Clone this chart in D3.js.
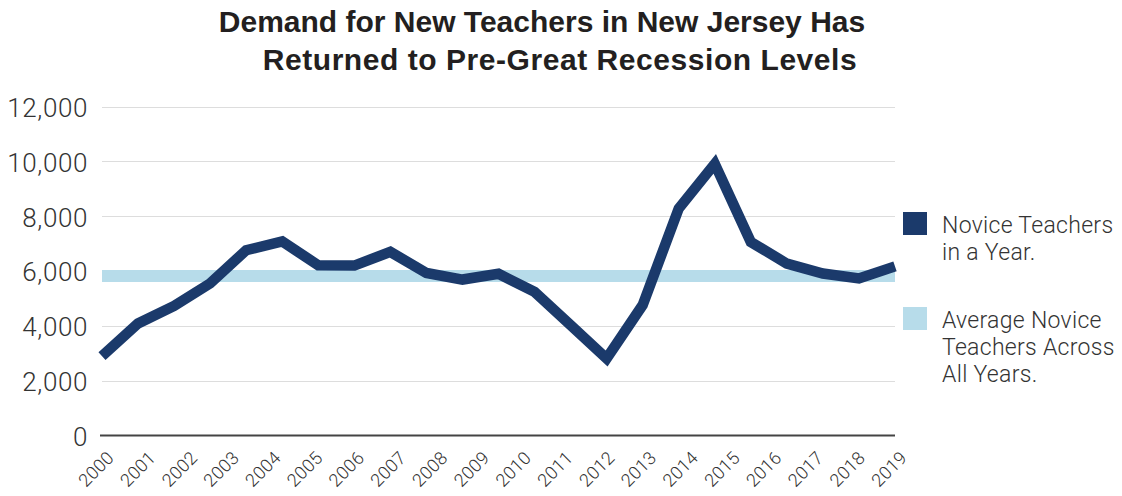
<!DOCTYPE html>
<html>
<head>
<meta charset="utf-8">
<script src="https://cdn.jsdelivr.net/npm/d3@7"></script>
<style>
  html, body { margin: 0; padding: 0; background: #fff; }
  svg { display: block; }
</style>
</head>
<body>
<svg id="chart" width="1122" height="496"></svg>
<script>
// ---- data ----
const titleLines = ["Demand for New Teachers in New Jersey Has", "Returned to Pre-Great Recession Levels"];
const yearLabels = ["2000","2001","2002","2003","2004","2005","2006","2007","2008","2009",
                    "2010","2011","2012","2013","2014","2015","2016","2017","2018","2019"];
const noviceTeachers = [2900, 4090, 4730, 5550, 6760, 7080, 6210, 6200, 6700, 5930, 5690, 5900,
                        5240, 4030, 2810, 4760, 8280, 9910, 7060, 6270, 5910, 5730, 6170];
const averageNovice = 5820;
const yTicks = [0, 2000, 4000, 6000, 8000, 10000, 12000];
const legendItems = [
  { lines: ["Novice Teachers", "in a Year."], key: "series" },
  { lines: ["Average Novice", "Teachers Across", "All Years."], key: "average" }
];

// ---- layout ----
const colors = { series: "#1b3a6b", average: "#b7dcea" };
const plot = { left: 102, right: 895, top: 106.5, bottom: 435.6 };
const svg = d3.select("#chart");
const lightFont = "Roboto, 'Helvetica Neue', Arial, sans-serif";

const y = d3.scaleLinear().domain([0, 12000]).range([plot.bottom, plot.top]);
const xIdx = d3.scaleLinear().domain([0, noviceTeachers.length - 1]).range([plot.left, plot.right]);
const xLab = d3.scalePoint().domain(yearLabels).range([plot.left, plot.right]);

// title
svg.append("g").selectAll("text").data(titleLines).join("text")
  .attr("x", (d, i) => i === 0 ? 542 : 560)
  .attr("y", (d, i) => 32 + i * 38)
  .attr("text-anchor", "middle")
  .attr("font-family", "'Liberation Sans', Arial, Helvetica, sans-serif")
  .attr("font-weight", "bold")
  .attr("font-size", 30)
  .attr("letter-spacing", (d, i) => i === 0 ? 0 : 0.55)
  .attr("fill", "#231f20")
  .text(d => d);

// gridlines (non-zero)
svg.append("g").selectAll("line").data(yTicks.filter(t => t > 0)).join("line")
  .attr("x1", plot.left).attr("x2", plot.right)
  .attr("y1", d => Math.round(y(d)) + 0.5).attr("y2", d => Math.round(y(d)) + 0.5)
  .attr("stroke", "#dddddd").attr("stroke-width", 1.2);

// y axis labels
const yAxis = d3.axisLeft(y).tickValues(yTicks).tickFormat(d3.format(",")).tickSize(0).tickPadding(0);
const yG = svg.append("g").attr("transform", "translate(88,0)").call(yAxis);
yG.select(".domain").remove();
yG.selectAll("text")
  .attr("font-family", lightFont).attr("font-weight", 300)
  .attr("font-size", 26).attr("letter-spacing", 0.6)
  .attr("fill", "#333").attr("dy", "0.38em");

// zero axis line
svg.append("line")
  .attr("x1", 100).attr("x2", plot.right)
  .attr("y1", y(0)).attr("y2", y(0))
  .attr("stroke", "#444").attr("stroke-width", 2);

// x labels
const xAxis = d3.axisBottom(xLab).tickSize(0).tickPadding(0);
const xG = svg.append("g").call(xAxis);
xG.select(".domain").remove();
xG.selectAll(".tick").attr("transform", d => `translate(${xLab(d) + 13},459)`);
xG.selectAll("text")
  .attr("x", 0).attr("y", 0).attr("dy", 0)
  .attr("transform", "rotate(-45)")
  .attr("text-anchor", "end")
  .attr("font-family", lightFont).attr("font-weight", 300)
  .attr("font-size", 18).attr("letter-spacing", 0.3)
  .attr("fill", "#333");

// average band
svg.append("line")
  .attr("x1", plot.left).attr("x2", plot.right)
  .attr("y1", y(averageNovice)).attr("y2", y(averageNovice))
  .attr("stroke", colors.average).attr("stroke-width", 12);

// novice line
const line = d3.line().x((d, i) => xIdx(i)).y(d => y(d));
svg.append("path").datum(noviceTeachers)
  .attr("d", line)
  .attr("fill", "none")
  .attr("stroke", colors.series)
  .attr("stroke-width", 10.5)
  .attr("stroke-linejoin", "miter")
  .attr("stroke-linecap", "butt");

// legend
const legendTops = [212, 307];
const lg = svg.append("g").selectAll("g").data(legendItems).join("g")
  .attr("transform", (d, i) => `translate(903,${legendTops[i]})`);
lg.append("rect").attr("width", 24).attr("height", 23)
  .attr("fill", d => colors[d.key]);
lg.each(function(d) {
  d3.select(this).selectAll("text").data(d.lines).join("text")
    .attr("x", 39).attr("y", (t, j) => 21 + j * 27)
    .attr("font-family", lightFont).attr("font-weight", 300)
    .attr("font-size", 23).attr("letter-spacing", 0.3)
    .attr("fill", "#333")
    .text(t => t);
});
</script>
</body>
</html>
